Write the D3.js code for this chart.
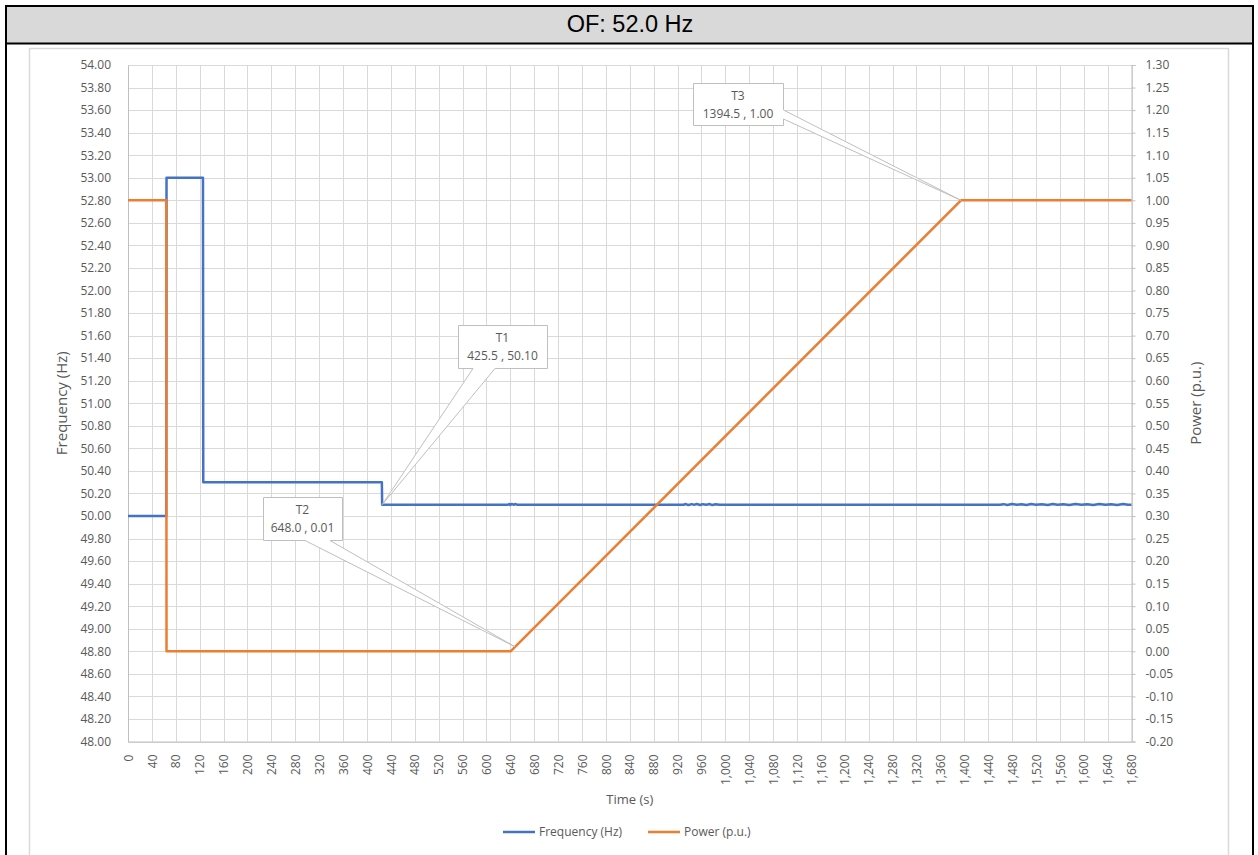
<!DOCTYPE html>
<html>
<head>
<meta charset="utf-8">
<script src="https://cdn.jsdelivr.net/npm/d3@7"></script>
<style>
  html, body { margin: 0; padding: 0; background: #fff; }
  svg { display: block; }
  text { font-family: "Open Sans", "Liberation Sans", sans-serif; fill: #595959; }
</style>
</head>
<body>
<svg id="chart" width="1258" height="855"></svg>
<script>
// ---- data ----
const chartTitle = "OF: 52.0 Hz";

// Frequency record (time s, Hz): steps, then the settled 50.10 Hz with small measurement ripple
const freqTime  = [0, 64, 64.5, 125.5, 126, 425, 425.5,
  636, 638, 640, 642, 646, 648, 652, 654,
  930, 934, 938, 944, 948, 952, 958, 962, 968, 974, 978, 984, 990, 996,
  1460, 1466, 1472, 1480, 1488, 1496, 1504, 1512, 1520, 1530, 1540, 1548, 1556, 1566, 1576, 1586, 1596, 1606, 1616, 1626, 1636, 1646, 1656, 1666, 1674, 1680];
const freqValue = [50.00, 50.00, 53.00, 53.00, 50.30, 50.30, 50.10,
  50.10, 50.106, 50.098, 50.107, 50.100, 50.106, 50.099, 50.10,
  50.10, 50.106, 50.097, 50.105, 50.099, 50.107, 50.098, 50.105, 50.100, 50.106, 50.097, 50.104, 50.099, 50.10,
  50.10, 50.105, 50.097, 50.106, 50.099, 50.105, 50.098, 50.106, 50.100, 50.105, 50.097, 50.106, 50.099, 50.105, 50.098, 50.106, 50.099, 50.105, 50.097, 50.106, 50.100, 50.105, 50.098, 50.106, 50.099, 50.10];

// Active power (time s, p.u.)
const powerTime  = [0, 64, 64.5, 640.5, 648.0, 1394.5, 1680];
const powerValue = [1.00, 1.00, 0.00, 0.00, 0.01, 1.00, 1.00];

// Data callouts
const calloutNames  = ["T1", "T2", "T3"];
const calloutTime   = [425.5, 648.0, 1394.5];
const calloutValue  = [50.10, 0.01, 1.00];
const calloutSeries = ["freq", "power", "power"];

// Axis ticks
const xTicks = d3.range(0, 1681, 40);
const yLeftTicks = d3.range(0, 31).map(i => +(48 + i * 0.2).toFixed(2));
const yRightTicks = d3.range(0, 31).map(i => +(-0.2 + i * 0.05).toFixed(2));

const seriesNames = ["Frequency (Hz)", "Power (p.u.)"];
const seriesColors = ["#4472C4", "#ED7D31"];

// ---- layout ----
const svg = d3.select("#chart");
const plot = { left: 128, right: 1131.5, top: 65, bottom: 741.5 };

const x = d3.scaleLinear().domain([0, 1680]).range([plot.left, plot.right]);
const yL = d3.scaleLinear().domain([48, 54]).range([plot.bottom, plot.top]);
const yR = d3.scaleLinear().domain([-0.2, 1.3]).range([plot.bottom, plot.top]);

// Outer frame and header band
svg.append("rect").attr("x", 6).attr("y", 6).attr("width", 1247).attr("height", 37)
  .attr("fill", "#d9d9d9");
svg.append("path")
  .attr("d", "M6,870 V6 H1253 V870")
  .attr("fill", "none").attr("stroke", "#000").attr("stroke-width", 2);
svg.append("line").attr("x1", 6).attr("x2", 1253).attr("y1", 43.5).attr("y2", 43.5)
  .attr("stroke", "#000").attr("stroke-width", 2);
svg.append("text").attr("x", 630).attr("y", 32).attr("text-anchor", "middle")
  .style("font-family", "'Liberation Sans', Arial, sans-serif").style("font-size", "23.5px")
  .style("fill", "#000").text(chartTitle);

// Chart area border
svg.append("rect").attr("x", 29.5).attr("y", 48.5).attr("width", 1199).attr("height", 830)
  .attr("fill", "#fff").attr("stroke", "#d9d9d9").attr("stroke-width", 1.5);

// Gridlines
const grid = svg.append("g");
grid.selectAll(".vg").data(xTicks).join("line")
  .attr("x1", d => Math.round(x(d)) + 0.5).attr("x2", d => Math.round(x(d)) + 0.5)
  .attr("y1", plot.top).attr("y2", plot.bottom)
  .attr("stroke", "#d9d9d9").attr("stroke-width", 1);
grid.selectAll(".hg").data(yLeftTicks).join("line")
  .attr("x1", plot.left).attr("x2", plot.right)
  .attr("y1", d => Math.round(yL(d)) + 0.5).attr("y2", d => Math.round(yL(d)) + 0.5)
  .attr("stroke", "#d9d9d9").attr("stroke-width", 1);

// Axes
const fmt2 = v => v.toFixed(2);
const axL = svg.append("g").attr("transform", `translate(${plot.left},0)`)
  .call(d3.axisLeft(yL).tickValues(yLeftTicks).tickFormat(fmt2).tickSize(0).tickPadding(17));
axL.select(".domain").attr("stroke", "#bfbfbf");
const axR = svg.append("g").attr("transform", `translate(${plot.right},0)`)
  .call(d3.axisRight(yR).tickValues(yRightTicks).tickFormat(fmt2).tickSize(4).tickPadding(10));
axR.select(".domain").attr("stroke", "#bfbfbf");
axR.selectAll(".tick line").attr("stroke", "#bfbfbf");
const axB = svg.append("g").attr("transform", `translate(0,${plot.bottom})`)
  .call(d3.axisBottom(x).tickValues(xTicks).tickFormat(d3.format(",")).tickSize(0));
axB.select(".domain").attr("stroke", "#bfbfbf");
axB.selectAll(".tick text")
  .attr("transform", "rotate(-90)")
  .attr("text-anchor", "end")
  .attr("x", -13).attr("y", 0).attr("dy", "0.35em");
svg.selectAll(".tick text").style("font-size", "12px").style("fill", "#595959")
  .style("font-family", "'Open Sans', sans-serif");

// Series lines
const freqData = freqTime.map((t, i) => [t, freqValue[i]]);
const powerData = powerTime.map((t, i) => [t, powerValue[i]]);
svg.append("path").datum(freqData)
  .attr("d", d3.line().x(d => x(d[0])).y(d => yL(d[1])))
  .attr("fill", "none").attr("stroke", seriesColors[0]).attr("stroke-width", 2.5)
  .attr("stroke-linejoin", "round");
svg.append("path").datum(powerData)
  .attr("d", d3.line().x(d => x(d[0])).y(d => yR(d[1])))
  .attr("fill", "none").attr("stroke", seriesColors[1]).attr("stroke-width", 2.5)
  .attr("stroke-linejoin", "round");

// Callouts: box geometry and the edge the pointer leaves from
const calloutBoxes = [
  { x: 458, y: 325, w: 89, h: 43, edge: "bottom", b1: 473, b2: 495 },
  { x: 263, y: 497, w: 79, h: 43, edge: "bottom", b1: 305, b2: 330 },
  { x: 693, y: 83, w: 90, h: 42, edge: "right", b1: 110, b2: 119 }
];
calloutNames.forEach((name, i) => {
  const b = calloutBoxes[i];
  const ax = x(calloutTime[i]);
  const ay = calloutSeries[i] === "freq" ? yL(calloutValue[i]) : yR(calloutValue[i]);
  const x0 = b.x + 0.5, y0 = b.y + 0.5, x1 = b.x + b.w + 0.5, y1 = b.y + b.h + 0.5;
  let d;
  if (b.edge === "bottom") {
    d = `M${x0},${y0} H${x1} V${y1} H${b.b2} L${ax},${ay} L${b.b1},${y1} H${x0} Z`;
  } else {
    d = `M${x0},${y0} H${x1} V${b.b1} L${ax},${ay} L${x1},${b.b2} V${y1} H${x0} Z`;
  }
  svg.append("path").attr("d", d).attr("fill", "#fff")
    .attr("stroke", "#bfbfbf").attr("stroke-width", 1);
  const cx = b.x + b.w / 2;
  svg.append("text").attr("x", cx).attr("y", b.y + 17).attr("text-anchor", "middle")
    .style("font-size", "12px").text(name);
  svg.append("text").attr("x", cx).attr("y", b.y + 35).attr("text-anchor", "middle")
    .style("font-size", "12px")
    .text(`${calloutTime[i].toFixed(1)} , ${calloutValue[i].toFixed(2)}`);
});

// Axis titles
svg.append("text").attr("transform", `translate(67,${(plot.top + plot.bottom) / 2}) rotate(-90)`)
  .attr("text-anchor", "middle").style("font-size", "15px").text("Frequency (Hz)");
svg.append("text").attr("transform", `translate(1201,${(plot.top + plot.bottom) / 2}) rotate(-90)`)
  .attr("text-anchor", "middle").style("font-size", "15px").text("Power (p.u.)");
svg.append("text").attr("x", (plot.left + plot.right) / 2).attr("y", 804)
  .attr("text-anchor", "middle").style("font-size", "13px").text("Time (s)");

// Legend
const legendX = [503, 648];
seriesNames.forEach((name, i) => {
  svg.append("line").attr("x1", legendX[i]).attr("x2", legendX[i] + 32)
    .attr("y1", 832).attr("y2", 832)
    .attr("stroke", seriesColors[i]).attr("stroke-width", 2.5);
  svg.append("text").attr("x", legendX[i] + 36).attr("y", 836)
    .style("font-size", "12px").text(name);
});
</script>
</body>
</html>
